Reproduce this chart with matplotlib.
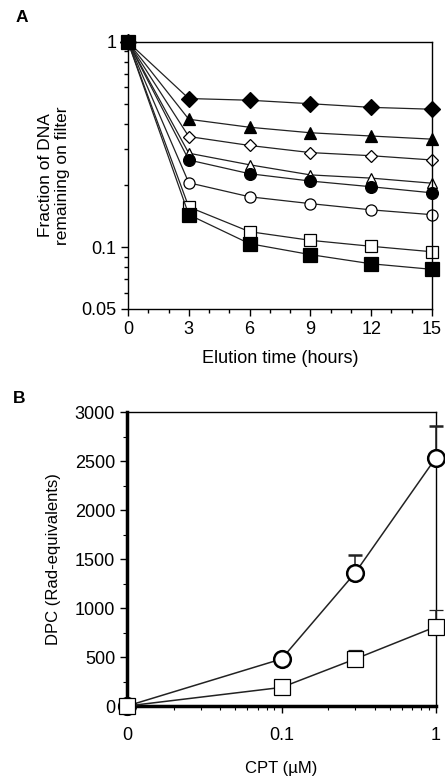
"""Two-panel figure: DNA elution kinetics and DPC vs CPT dose."""

import matplotlib

matplotlib.use("Agg")
import matplotlib.pyplot as plt
import numpy as np
from matplotlib.ticker import FixedLocator, LogLocator, MultipleLocator, NullFormatter

plt.rcParams["font.family"] = ["Liberation Sans", "DejaVu Sans"]

# Panel A: fraction of DNA remaining on filter vs elution time
hours = [0, 3, 6, 9, 12, 15]
filled_diamond = [1.0, 0.53, 0.52, 0.50, 0.48, 0.47]
filled_triangle = [1.0, 0.42, 0.384, 0.361, 0.348, 0.336]
open_diamond = [1.0, 0.346, 0.313, 0.289, 0.279, 0.266]
open_triangle = [1.0, 0.287, 0.252, 0.225, 0.217, 0.205]
filled_circle = [1.0, 0.266, 0.228, 0.210, 0.197, 0.184]
open_circle = [1.0, 0.206, 0.176, 0.163, 0.152, 0.144]
open_square = [1.0, 0.157, 0.119, 0.108, 0.101, 0.095]
filled_square = [1.0, 0.144, 0.104, 0.092, 0.083, 0.078]

# Panel B: DPC (rad-equivalents) vs CPT concentration
cpt_um = [0, 0.1, 0.3, 1.0]
dpc_circle = [0, 480, 1360, 2535]
dpc_circle_err = [0, 0, 180, 320]
dpc_square = [0, 190, 480, 810]
dpc_square_err = [0, 0, 90, 165]

series_a = [
    (filled_diamond, "D", "black", 8.5),
    (filled_triangle, "^", "black", 9),
    (open_diamond, "D", "white", 6.5),
    (open_triangle, "^", "white", 6.5),
    (filled_circle, "o", "black", 8.5),
    (open_circle, "o", "white", 8),
    (open_square, "s", "white", 8.5),
    (filled_square, "s", "black", 9.5),
]

fig = plt.figure(figsize=(4.45, 7.81), dpi=100)

# ---- Panel A ----
ax = fig.add_axes([0.2876, 0.6044, 0.6831, 0.3419])
for vals, marker, face, ms in series_a:
    ax.plot(hours, vals, color="#222222", lw=0.9, marker=marker, ms=ms,
            mfc=face, mec="black", mew=0.9, clip_on=False)
ax.set_yscale("log")
ax.set_ylim(0.05, 1)
ax.set_xlim(0, 15)
ax.set_yticks([0.05, 0.1, 1], ["0.05", "0.1", "1"])
ax.yaxis.set_minor_locator(FixedLocator([0.06, 0.07, 0.08, 0.09, 0.2, 0.3, 0.4,
                                         0.5, 0.6, 0.7, 0.8, 0.9]))
ax.yaxis.set_minor_formatter(NullFormatter())
ax.set_xticks([0, 3, 6, 9, 12, 15])
ax.xaxis.set_minor_locator(MultipleLocator(1))
ax.tick_params(which="major", length=5, width=1, labelsize=13, direction="out")
ax.tick_params(which="minor", length=3, width=1, direction="out")
for s in ax.spines.values():
    s.set_linewidth(1)
ax.set_xlabel("Elution time (hours)", fontsize=13, labelpad=9)
ax.set_ylabel("Fraction of DNA\nremaining on filter", fontsize=12.5, labelpad=8)
fig.text(0.035, 0.978, "A", fontsize=12.5, fontweight="bold", va="center")

# ---- Panel B ----
bx = fig.add_axes([0.2854, 0.096, 0.6944, 0.3764])
xpos = np.where(np.array(cpt_um) == 0, 0.01, cpt_um)
bx.errorbar(xpos, dpc_circle, yerr=[np.zeros(4), dpc_circle_err], color="#222222",
            lw=1.1, marker="o", ms=12, mfc="white", mec="black", mew=1.8,
            capsize=5, elinewidth=1.1, capthick=1.1, clip_on=False, zorder=3)
bx.errorbar(xpos, dpc_square, yerr=[np.zeros(4), dpc_square_err], color="#222222",
            lw=1.1, marker="s", ms=12, mfc="white", mec="black", mew=0.9,
            capsize=5, elinewidth=1.1, capthick=1.1, clip_on=False, zorder=4)
bx.set_xscale("log")
bx.set_xlim(0.01, 1)
bx.set_ylim(0, 3000)
bx.set_xticks([0.01, 0.1, 1], ["0", "0.1", "1"])
bx.xaxis.set_minor_locator(LogLocator(base=10, subs=np.arange(2, 10)))
bx.xaxis.set_minor_formatter(NullFormatter())
bx.yaxis.set_major_locator(MultipleLocator(500))
bx.yaxis.set_minor_locator(MultipleLocator(250))
bx.tick_params(which="major", length=5, width=1, labelsize=13, direction="out")
bx.tick_params(which="minor", length=3, width=0.8, direction="out")
bx.tick_params(axis="x", which="major", pad=10)
bx.spines["left"].set_linewidth(2.5)
bx.spines["bottom"].set_linewidth(2.5)
bx.spines["top"].set_linewidth(1)
bx.spines["right"].set_linewidth(1)
bx.set_xlabel("CPT (\u00b5M)", fontsize=12, labelpad=12)
bx.set_ylabel("DPC (Rad-equivalents)", fontsize=12, labelpad=10)
fig.text(0.028, 0.49, "B", fontsize=12.5, fontweight="bold", va="center")

fig.savefig("out.png", dpi=100)
